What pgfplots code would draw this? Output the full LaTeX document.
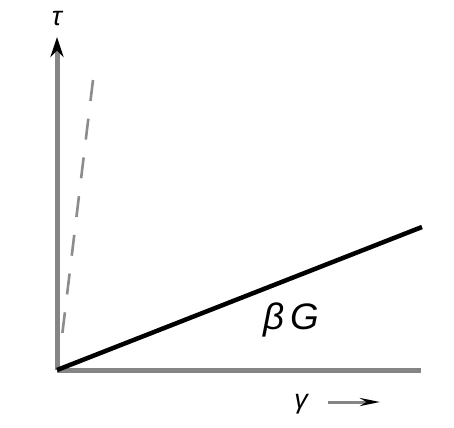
\documentclass[border=0pt]{standalone}
\usepackage{fontspec}
\setmainfont{Liberation Sans}
\usepackage{pgfplots}
\pgfplotsset{compat=1.18}
\usetikzlibrary{arrows.meta}
\definecolor{axisgray}{gray}{0.52}
\definecolor{dashgray}{gray}{0.55}
\begin{document}
\begin{tikzpicture}
\begin{axis}[
  hide axis, scale only axis,
  x=1bp, y=1bp,
  xmin=0, xmax=454, ymin=0, ymax=427,
  clip=false,
]
% shear axes
\draw[axisgray, line width=5bp, -{Stealth[black, length=20bp, width=13bp]}]
  (axis cs:57,57) -- (axis cs:57,390);
\draw[axisgray, line width=5bp] (axis cs:57,57) -- (axis cs:421,57);
% elastic modulus line (steep, dashed) and reduced modulus line
\addplot[dashgray, line width=2.6bp, dash pattern=on 21bp off 18bp]
  coordinates {(93,347) (62.4,94)};
\addplot[black, line width=4.5bp] coordinates {(57,57) (422,200)};
% labels
\node[font=\fontsize{27}{30}\selectfont\itshape] at (axis cs:57,408) {τ};
\node[font=\fontsize{37}{40}\selectfont\itshape] at (axis cs:291,107) {β\,G};
\node[font=\fontsize{27}{30}\selectfont\itshape, anchor=base] at (axis cs:301,19) {γ};
\draw[axisgray, line width=3bp, -{Stealth[black, length=20bp, width=8bp]}]
  (axis cs:328,25) -- (axis cs:380,25);
\end{axis}
\pgfresetboundingbox
\useasboundingbox (current axis.south west) rectangle (current axis.north east);
\end{tikzpicture}
\end{document}
